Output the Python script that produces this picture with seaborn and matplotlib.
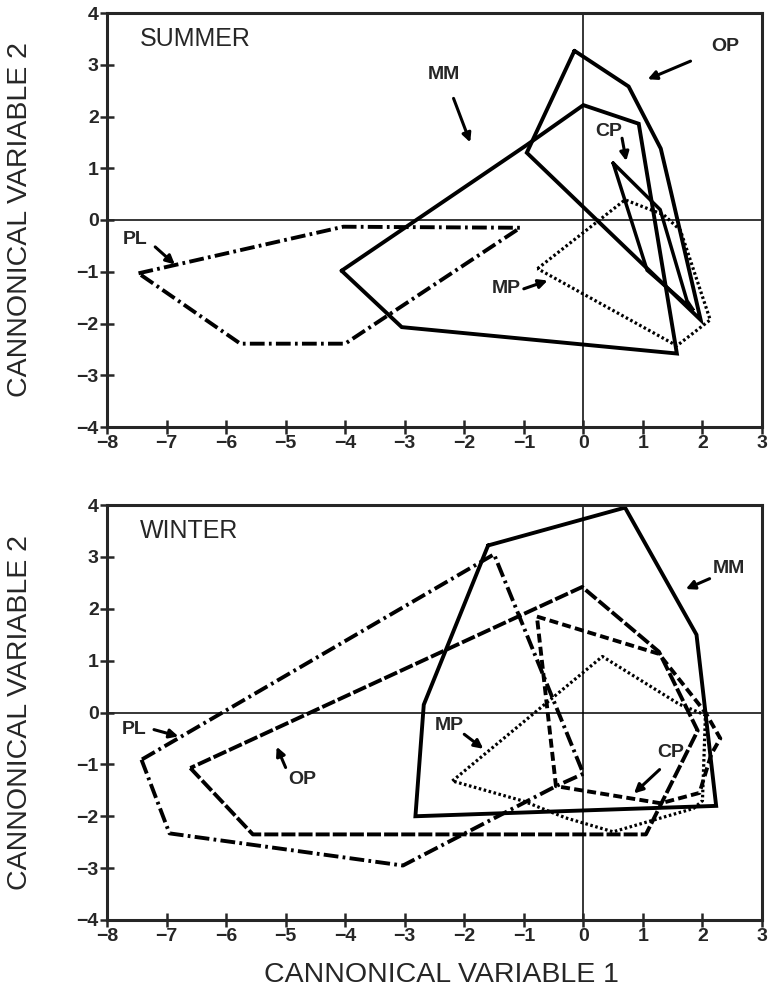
import matplotlib
matplotlib.use("Agg")
import matplotlib.pyplot as plt
import pandas as pd
import seaborn as sns

# ---- data ----
# Summer polygons
sum_op_x = [-0.15, 0.76, 1.30, 1.47, 1.97, -0.95]
sum_op_y = [3.27, 2.58, 1.38, 0.55, -1.93, 1.30]
sum_mm_x = [-4.06, -0.95, 0.0, 0.93, 1.57, -3.05]
sum_mm_y = [-0.98, 1.45, 2.22, 1.86, -2.58, -2.07]
sum_cp_x = [0.50, 1.29, 1.74, 1.85, 1.07]
sum_cp_y = [1.10, 0.20, -1.56, -1.75, -0.97]
sum_mp_x = [-0.77, 0.70, 1.35, 1.63, 2.13, 1.57]
sum_mp_y = [-0.94, 0.39, 0.10, -0.20, -1.93, -2.43]
sum_pl_x = [-7.47, -4.03, -1.06, -4.00, -5.76]
sum_pl_y = [-1.03, -0.13, -0.15, -2.39, -2.39]

# Winter polygons
win_pl_x = [-7.42, -6.95, -3.03, -0.46, 0.0, -1.50]
win_pl_y = [-0.91, -2.33, -2.95, -1.42, -1.18, 3.05]
win_op_x = [-6.60, -5.55, 1.05, 1.92, 1.27, -0.02]
win_op_y = [-1.07, -2.35, -2.35, -0.35, 1.17, 2.42]
win_mm_x = [-1.60, 0.70, 1.90, 2.23, -2.82, -2.68]
win_mm_y = [3.22, 3.95, 1.50, -1.80, -2.00, 0.15]
win_cp_x = [-0.78, 1.27, 2.05, 2.30, 2.15, 1.95, 1.30, -0.46]
win_cp_y = [1.85, 1.13, 0.0, -0.50, -0.80, -1.55, -1.75, -1.42]
win_mp_x = [-2.20, 0.32, 1.61, 2.05, 2.00, 1.85, 0.50, -0.30, -1.00]
win_mp_y = [-1.32, 1.08, 0.16, -0.05, -1.70, -1.85, -2.30, -2.03, -1.71]

x_ticks = [-8, -7, -6, -5, -4, -3, -2, -1, 0, 1, 2, 3]
y_ticks = [-4, -3, -2, -1, 0, 1, 2, 3, 4]

# line styles per group
dashdot = (0, (3.8, 1.1, 0.7, 1.1))
dotted = (0, (0.8, 0.8))
longdash = (0, (3.6, 0.8))
meddash = (0, (2.3, 1.1))

summer = [
    (sum_op_x, sum_op_y, "-", 2.8),
    (sum_mm_x, sum_mm_y, "-", 2.8),
    (sum_cp_x, sum_cp_y, "-", 2.5),
    (sum_mp_x, sum_mp_y, dotted, 2.3),
    (sum_pl_x, sum_pl_y, dashdot, 2.8),
]
winter = [
    (win_pl_x, win_pl_y, dashdot, 2.8),
    (win_op_x, win_op_y, longdash, 2.8),
    (win_mm_x, win_mm_y, "-", 2.8),
    (win_cp_x, win_cp_y, meddash, 2.8),
    (win_mp_x, win_mp_y, dotted, 2.3),
]

# (label, text xy, arrow start, arrow end)
summer_notes = [
    ("MM", (-2.35, 2.82), (-2.18, 2.35), (-1.90, 1.50)),
    ("OP", (2.38, 3.36), (1.80, 3.07), (1.08, 2.72)),
    ("CP", (0.42, 1.71), (0.65, 1.58), (0.72, 1.14)),
    ("MP", (-1.30, -1.33), (-1.00, -1.33), (-0.60, -1.17)),
    ("PL", (-7.52, -0.37), (-7.19, -0.52), (-6.86, -0.86)),
]
winter_notes = [
    ("MM", (2.45, 2.77), (2.12, 2.58), (1.72, 2.38)),
    ("CP", (1.47, -0.77), (1.28, -1.10), (0.85, -1.56)),
    ("MP", (-2.25, -0.26), (-2.00, -0.42), (-1.68, -0.70)),
    ("OP", (-4.72, -1.29), (-5.00, -1.06), (-5.15, -0.66)),
    ("PL", (-7.55, -0.32), (-7.21, -0.33), (-6.80, -0.46)),
]

sns.set_style("ticks")
plt.rcParams["font.family"] = ["Liberation Sans", "DejaVu Sans"]

fig = plt.figure(figsize=(7.74, 10), dpi=100)
ax_top = fig.add_axes([0.1382, 0.573, 0.8463, 0.414])
ax_bot = fig.add_axes([0.1382, 0.080, 0.8463, 0.415])


def draw_panel(ax, polys, notes, title):
    for xs, ys, ls, lw in polys:
        df = pd.DataFrame({"x": xs + xs[:1], "y": ys + ys[:1]})
        sns.lineplot(data=df, x="x", y="y", sort=False, estimator=None,
                     color="black", linewidth=lw, linestyle=ls,
                     solid_joinstyle="miter", ax=ax)
    ax.axhline(0, color="black", lw=1.1, zorder=0)
    ax.axvline(0, color="black", lw=1.1, zorder=0)
    ax.set_xlim(-8, 3)
    ax.set_ylim(-4, 4)
    ax.set_xticks(x_ticks)
    ax.set_yticks(y_ticks)
    ax.set_xticklabels([str(t).replace("-", "\u2212") for t in x_ticks],
                       fontweight="bold", fontsize=14)
    ax.set_yticklabels([str(t).replace("-", "\u2212") for t in y_ticks],
                       fontweight="bold", fontsize=14)
    ax.tick_params(direction="inout", length=10, width=1.8, pad=1)
    for s in ax.spines.values():
        s.set_visible(True)
        s.set_linewidth(2.2)
    ax.set_xlabel("")
    ax.set_ylabel("CANNONICAL VARIABLE 2", fontsize=20.5)
    ax.yaxis.set_label_coords(-0.113, 0.5)
    ax.text(-7.45, 3.5, title, fontsize=18, va="center", ha="left")
    for lab, txy, a0, a1 in notes:
        ax.text(txy[0], txy[1], lab, fontsize=14, fontweight="bold",
                ha="center", va="center")
        ax.annotate("", xy=a1, xytext=a0,
                    arrowprops=dict(arrowstyle="-|>", color="black", lw=2.2,
                                    mutation_scale=13, shrinkA=0, shrinkB=0))


draw_panel(ax_top, summer, summer_notes, "SUMMER")
draw_panel(ax_bot, winter, winter_notes, "WINTER")
ax_bot.set_xlabel("CANNONICAL VARIABLE 1", fontsize=20.5)
ax_bot.xaxis.set_label_coords(0.511, -0.10)

fig.savefig("out.png", dpi=100)
